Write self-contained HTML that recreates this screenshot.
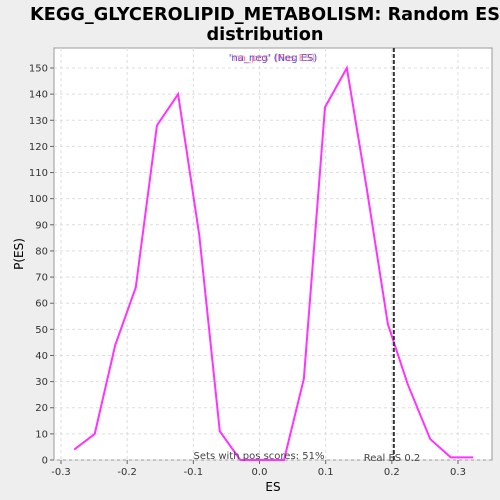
<!DOCTYPE html>
<html><head><meta charset="utf-8"><style>
html,body{margin:0;background:#eeeeee;font-family:"Liberation Sans","DejaVu Sans",sans-serif;overflow:hidden}
svg{display:block}
svg text{font-family:"DejaVu Sans","Liberation Sans",sans-serif}
</style></head><body>
<svg id="c" width="500" height="500">
<rect x="0" y="0" width="500" height="500" fill="#eeeeee"/>
<text x="265" y="20" text-anchor="middle" font-size="17.7" font-weight="bold" fill="#000">KEGG_GLYCEROLIPID_METABOLISM: Random ES</text>
<text x="265" y="40" text-anchor="middle" font-size="17.7" font-weight="bold" fill="#000">distribution</text>
<rect x="54" y="48" width="438" height="412" fill="#fff" stroke="#999"/>
<g id="grid"></g><g id="axes"></g><g id="series"></g>
<text x="273" y="61" text-anchor="middle" font-size="10" fill="#4444ff">'na_neg' (Neg ES)</text>
<text x="273" y="61" text-anchor="middle" font-size="10" fill="#ff5555" opacity="0.7">'na_pos' (Pos ES)</text>
<text x="259" y="459" text-anchor="middle" font-size="10" fill="#444">Sets with pos scores: 51%</text>
<text x="392" y="461" text-anchor="middle" font-size="10" fill="#444">Real ES 0.2</text>
<text x="273" y="491" text-anchor="middle" font-size="12" fill="#000">ES</text>
<text x="23" y="254" text-anchor="middle" font-size="12" fill="#000" transform="rotate(-90 23 254)">P(ES)</text>
</svg>
<script>
const esValues=[-0.280,-0.249,-0.218,-0.187,-0.155,-0.123,-0.091,-0.060,-0.029,0.002,0.037,0.067,0.099,0.132,0.162,0.194,0.224,0.258,0.289,0.323];
const probValues=[4,10,44,66,128,140,86,11,0,0,0,31,135,150,104,52,29,8,1,1];
const xTicks=[-0.3,-0.2,-0.1,0.0,0.1,0.2,0.3];
const xTickLabels=["-0.3","-0.2","-0.1","0.0","0.1","0.2","0.3"];
const yTicks=[0,10,20,30,40,50,60,70,80,90,100,110,120,130,140,150];
const realES=[0.203];
const NS="http://www.w3.org/2000/svg";
const X=v=>259.5+v*661.7, Y=v=>460-v*2.6133;
function mk(t,a,p){const e=document.createElementNS(NS,t);for(const k in a)e.setAttribute(k,a[k]);p.appendChild(e);return e;}
const grid=document.getElementById('grid'),axes=document.getElementById('axes'),ser=document.getElementById('series');
xTicks.forEach((t,i)=>{
 const g=mk('line',{x1:X(t),x2:X(t),y1:48,y2:460,stroke:'#ddd','stroke-dasharray':'3,3'},grid);
 
 
 const tk=mk('line',{x1:X(t),x2:X(t),y1:460,y2:464,stroke:'#666'},axes);
 
 
 const tx=mk('text',{x:X(t),y:475,'text-anchor':'middle','font-size':10,fill:'#333'},axes);
 tx.textContent=xTickLabels[i];
 
 
});
yTicks.forEach(t=>{
 const g=mk('line',{x1:54,x2:492,y1:Y(t),y2:Y(t),stroke:'#ddd','stroke-dasharray':'3,3'},grid);
 
 
 const tk=mk('line',{x1:50,x2:54,y1:Y(t),y2:Y(t),stroke:'#666'},axes);
 
 
 const tx=mk('text',{x:48,y:Y(t)+3.5,'text-anchor':'end','font-size':10,fill:'#333'},axes);
 tx.textContent=String(t);
 
 
});
const pl=mk('polyline',{points:esValues.map((v,i)=>X(v)+','+Y(probValues[i])).join(' '),fill:'none',stroke:'#ff33ff','stroke-width':2},ser);


realES.forEach(v=>{
 const l=mk('line',{x1:X(v),x2:X(v),y1:48,y2:460,stroke:'#333','stroke-width':2,'stroke-dasharray':'4,2'},ser);
 
 
});
</script>
</body></html>
